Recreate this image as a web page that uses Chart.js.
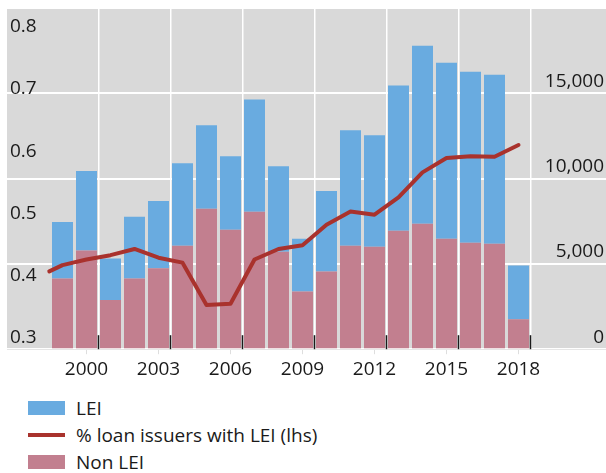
<!DOCTYPE html>
<html>
<head>
<meta charset="utf-8">
<script src="https://cdn.jsdelivr.net/npm/chart.js@4/dist/chart.umd.min.js"></script>
<style>
  body { margin: 0; background: #fff; font-family: "Open Sans", sans-serif; }
  #wrap { width: 606px; height: 390px; }
  #wrap canvas { display: block; }
  #legend { margin: 4px 0 0 28px; font-size: 19px; color: #1a1a1a; }
  #legend .row { height: 27px; display: flex; align-items: center; }
  #legend .key { width: 37px; margin-right: 11px; }
</style>
</head>
<body>
<div id="wrap"><canvas id="lei_chart" width="606" height="390"></canvas></div>
<div id="legend"></div>
<script>
// issuers per year, split by LEI status (rhs)
var years = [1999, 2000, 2001, 2002, 2003, 2004, 2005, 2006, 2007, 2008,
             2009, 2010, 2011, 2012, 2013, 2014, 2015, 2016, 2017, 2018];
var nonLei = [4140, 5790, 2880, 4140, 4740, 6060, 8240, 7000, 8050, 5710,
              3380, 4550, 6060, 6010, 6940, 7350, 6470, 6240, 6180, 1750];
var lei = [3320, 4650, 2430, 3620, 3950, 4840, 4880, 4310, 6590, 5020,
           3090, 4720, 6770, 6530, 8510, 10440, 10320, 10030, 9910, 3150];

// share of loan issuers with an LEI (lhs), series starts just before 1999
var shareYears = [1998.45].concat(years);
var shareWithLei = [0.407, 0.417, 0.426, 0.433, 0.443, 0.429, 0.421, 0.353, 0.355, 0.426,
                    0.443, 0.449, 0.482, 0.503, 0.498, 0.526, 0.566, 0.589, 0.592, 0.591, 0.610];

var yearTicks = [2000, 2003, 2006, 2009, 2012, 2015, 2018];
var countTicks = [0, 5000, 10000, 15000, 20000];
var shareTicks = [0.3, 0.4, 0.5, 0.6, 0.7, 0.8];

var BLUE = '#69abe0', ROSE = '#c27f8f', RED = '#a9322d', PANEL = '#d9d9d9';

Chart.defaults.font.family = '"Open Sans", sans-serif';
Chart.defaults.font.size = 19;
Chart.defaults.color = '#1a1a1a';

function pairs(xs, ys) {
  return ys.map(function (v, i) { return {x: xs[i], y: v}; });
}

// value axes sit inside the panel, so they take no room of their own
function flatAxis(s) {
  s.width = 0;
  s.paddingTop = 0;
  s.paddingBottom = 0;
}

var plotBackground = {
  id: 'plotBackground',
  beforeDraw: function (chart) {
    var a = chart.chartArea, ctx = chart.ctx;
    ctx.save();
    ctx.fillStyle = PANEL;
    ctx.fillRect(a.left, a.top, a.right - a.left, a.bottom - a.top);
    ctx.restore();
  }
};

// short black marks at the bottom of the panel, on the year separators
var innerTicks = {
  id: 'innerTicks',
  beforeDatasetsDraw: function (chart) {
    var s = chart.scales.xg, a = chart.chartArea, ctx = chart.ctx;
    ctx.save();
    ctx.strokeStyle = '#1a1a1a';
    ctx.lineWidth = 1.5;
    s.ticks.forEach(function (t) {
      var px = s.getPixelForValue(t.value);
      ctx.beginPath();
      ctx.moveTo(px, a.bottom - 14);
      ctx.lineTo(px, a.bottom);
      ctx.stroke();
    });
    ctx.restore();
  }
};

var xMin = 1996.6875, xMax = 2021.646;

var ctx = document.getElementById('lei_chart').getContext('2d');
var chart = new Chart(ctx, {
  type: 'bar',
  data: {
    datasets: [{
      label: 'Non LEI',
      data: pairs(years, nonLei),
      backgroundColor: ROSE,
      yAxisID: 'y',
      order: 1
    }, {
      label: 'LEI',
      data: pairs(years, lei),
      backgroundColor: BLUE,
      yAxisID: 'y',
      order: 2
    }, {
      type: 'line',
      label: '% loan issuers with LEI (lhs)',
      data: pairs(shareYears, shareWithLei),
      borderColor: RED,
      backgroundColor: RED,
      borderWidth: 4,
      borderCapStyle: 'round',
      borderJoinStyle: 'round',
      pointRadius: 0,
      tension: 0,
      yAxisID: 'yL',
      order: 0
    }]
  },
  options: {
    responsive: false,
    animation: false,
    devicePixelRatio: 1,
    barPercentage: 0.875,
    categoryPercentage: 1,
    layout: { padding: { left: 7, top: 8, right: 0, bottom: 5 } },
    plugins: { legend: { display: false }, tooltip: { enabled: false } },
    scales: {
      x: {
        type: 'linear',
        stacked: true,
        offset: false,
        min: xMin,
        max: xMax,
        afterBuildTicks: function (s) {
          s.ticks = yearTicks.map(function (v) { return {value: v}; });
        },
        ticks: { padding: 4, callback: function (v) { return String(v); } },
        grid: { offset: false, drawOnChartArea: false, tickLength: 5, color: '#dedede' },
        border: { color: '#e6e6e6' }
      },
      xg: {
        type: 'linear',
        position: 'bottom',
        offset: false,
        min: xMin,
        max: xMax,
        afterBuildTicks: function (s) {
          s.ticks = yearTicks.map(function (v) { return {value: v + 0.5}; });
        },
        afterFit: function (s) { s.height = 0; },
        ticks: { display: false },
        grid: { offset: false, color: '#ffffff', lineWidth: 1.5, drawTicks: false },
        border: { display: false }
      },
      y: {
        position: 'right',
        stacked: true,
        min: 0,
        max: 20000,
        afterBuildTicks: function (s) {
          s.ticks = countTicks.map(function (v) { return {value: v}; });
        },
        afterFit: flatAxis,
        ticks: {
          mirror: true,
          padding: -2,
          labelOffset: -12,
          callback: function (v) { return v === 20000 ? '' : v.toLocaleString('en-US'); }
        },
        grid: { color: '#ffffff', lineWidth: 2, drawTicks: false },
        border: { display: false }
      },
      yL: {
        position: 'left',
        min: 0.282,
        max: 0.830,
        afterBuildTicks: function (s) {
          s.ticks = shareTicks.map(function (v) { return {value: v}; });
        },
        afterFit: flatAxis,
        ticks: {
          mirror: true,
          padding: 3,
          callback: function (v) { return v.toFixed(1); }
        },
        grid: { display: false },
        border: { display: false }
      }
    }
  },
  plugins: [plotBackground, innerTicks]
});

// legend: LEI, share line, Non LEI
var legend = document.getElementById('legend');
[1, 2, 0].forEach(function (i) {
  var ds = chart.data.datasets[i];
  var row = document.createElement('div');
  row.className = 'row';
  var key = document.createElement('span');
  key.className = 'key';
  key.style.height = ds.type === 'line' ? '4px' : '14px';
  key.style.background = ds.type === 'line' ? ds.borderColor : ds.backgroundColor;
  var txt = document.createElement('span');
  txt.textContent = ds.label;
  row.appendChild(key);
  row.appendChild(txt);
  legend.appendChild(row);
});
</script>
</body>
</html>
